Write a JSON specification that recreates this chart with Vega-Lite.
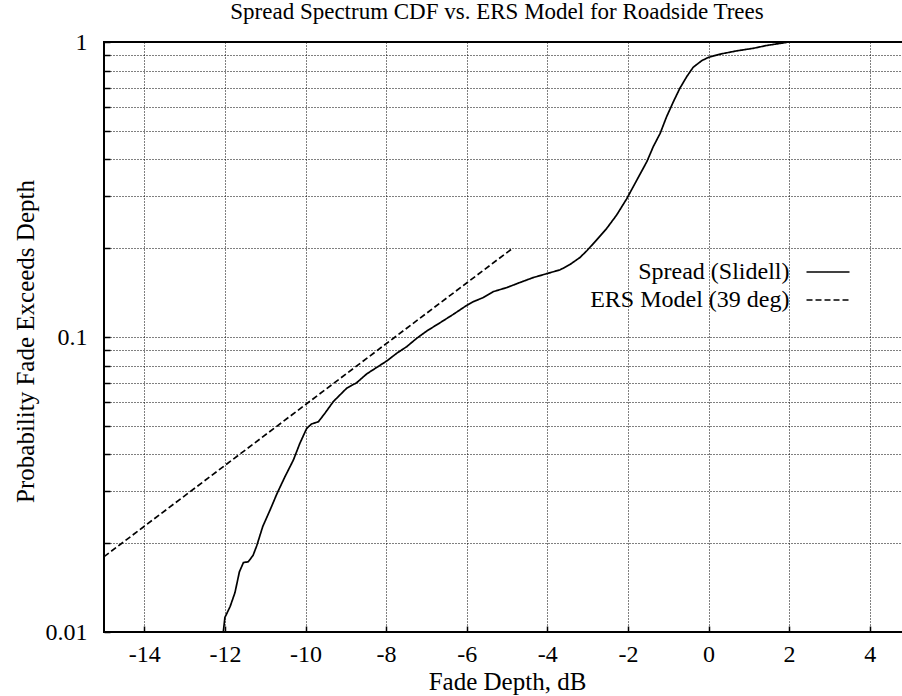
{
  "$schema": "https://vega.github.io/schema/vega-lite/v6.json",
  "width": 806,
  "height": 590,
  "autosize": {"type": "none"},
  "padding": {"left": 104, "top": 42, "right": 0, "bottom": 64},
  "background": "white",
  "title": {
    "text": "Spread Spectrum CDF vs. ERS Model for Roadside Trees",
    "font": "Liberation Serif",
    "fontSize": 23,
    "fontWeight": "normal",
    "color": "black",
    "offset": 6,
    "dx": -10
  },
  "config": {
    "view": {"stroke": "black", "strokeWidth": 2},
    "font": "Liberation Serif"
  },
  "data": {
    "values": [
      {"series": "Spread (Slidell)", "fade": -12.04, "prob": 0.0100},
      {"series": "Spread (Slidell)", "fade": -12.0, "prob": 0.0112},
      {"series": "Spread (Slidell)", "fade": -11.87, "prob": 0.0122},
      {"series": "Spread (Slidell)", "fade": -11.75, "prob": 0.0136},
      {"series": "Spread (Slidell)", "fade": -11.64, "prob": 0.0160},
      {"series": "Spread (Slidell)", "fade": -11.54, "prob": 0.0172},
      {"series": "Spread (Slidell)", "fade": -11.42, "prob": 0.0173},
      {"series": "Spread (Slidell)", "fade": -11.30, "prob": 0.0182},
      {"series": "Spread (Slidell)", "fade": -11.21, "prob": 0.0196},
      {"series": "Spread (Slidell)", "fade": -11.06, "prob": 0.0228},
      {"series": "Spread (Slidell)", "fade": -10.88, "prob": 0.0259},
      {"series": "Spread (Slidell)", "fade": -10.71, "prob": 0.0294},
      {"series": "Spread (Slidell)", "fade": -10.51, "prob": 0.0336},
      {"series": "Spread (Slidell)", "fade": -10.30, "prob": 0.0383},
      {"series": "Spread (Slidell)", "fade": -10.14, "prob": 0.0436},
      {"series": "Spread (Slidell)", "fade": -9.97, "prob": 0.0490},
      {"series": "Spread (Slidell)", "fade": -9.85, "prob": 0.0507},
      {"series": "Spread (Slidell)", "fade": -9.68, "prob": 0.0516},
      {"series": "Spread (Slidell)", "fade": -9.52, "prob": 0.0551},
      {"series": "Spread (Slidell)", "fade": -9.31, "prob": 0.0604},
      {"series": "Spread (Slidell)", "fade": -8.98, "prob": 0.0670},
      {"series": "Spread (Slidell)", "fade": -8.73, "prob": 0.0700},
      {"series": "Spread (Slidell)", "fade": -8.48, "prob": 0.0750},
      {"series": "Spread (Slidell)", "fade": -8.23, "prob": 0.0789},
      {"series": "Spread (Slidell)", "fade": -7.98, "prob": 0.0830},
      {"series": "Spread (Slidell)", "fade": -7.74, "prob": 0.0880},
      {"series": "Spread (Slidell)", "fade": -7.49, "prob": 0.0927},
      {"series": "Spread (Slidell)", "fade": -7.24, "prob": 0.0990},
      {"series": "Spread (Slidell)", "fade": -6.99, "prob": 0.1048},
      {"series": "Spread (Slidell)", "fade": -6.66, "prob": 0.1118},
      {"series": "Spread (Slidell)", "fade": -6.33, "prob": 0.1194},
      {"series": "Spread (Slidell)", "fade": -6.0, "prob": 0.1280},
      {"series": "Spread (Slidell)", "fade": -5.84, "prob": 0.1317},
      {"series": "Spread (Slidell)", "fade": -5.59, "prob": 0.1360},
      {"series": "Spread (Slidell)", "fade": -5.34, "prob": 0.1425},
      {"series": "Spread (Slidell)", "fade": -5.01, "prob": 0.1470},
      {"series": "Spread (Slidell)", "fade": -4.68, "prob": 0.1530},
      {"series": "Spread (Slidell)", "fade": -4.35, "prob": 0.1590},
      {"series": "Spread (Slidell)", "fade": -4.01, "prob": 0.1640},
      {"series": "Spread (Slidell)", "fade": -3.68, "prob": 0.1690},
      {"series": "Spread (Slidell)", "fade": -3.44, "prob": 0.1760},
      {"series": "Spread (Slidell)", "fade": -3.19, "prob": 0.1860},
      {"series": "Spread (Slidell)", "fade": -3.02, "prob": 0.1960},
      {"series": "Spread (Slidell)", "fade": -2.78, "prob": 0.2130},
      {"series": "Spread (Slidell)", "fade": -2.53, "prob": 0.2330},
      {"series": "Spread (Slidell)", "fade": -2.28, "prob": 0.2590},
      {"series": "Spread (Slidell)", "fade": -2.03, "prob": 0.2940},
      {"series": "Spread (Slidell)", "fade": -1.78, "prob": 0.3400},
      {"series": "Spread (Slidell)", "fade": -1.53, "prob": 0.3930},
      {"series": "Spread (Slidell)", "fade": -1.37, "prob": 0.4420},
      {"series": "Spread (Slidell)", "fade": -1.20, "prob": 0.4900},
      {"series": "Spread (Slidell)", "fade": -1.04, "prob": 0.5580},
      {"series": "Spread (Slidell)", "fade": -0.87, "prob": 0.6280},
      {"series": "Spread (Slidell)", "fade": -0.71, "prob": 0.6970},
      {"series": "Spread (Slidell)", "fade": -0.54, "prob": 0.7630},
      {"series": "Spread (Slidell)", "fade": -0.38, "prob": 0.8210},
      {"series": "Spread (Slidell)", "fade": -0.17, "prob": 0.8640},
      {"series": "Spread (Slidell)", "fade": 0.0, "prob": 0.8870},
      {"series": "Spread (Slidell)", "fade": 0.29, "prob": 0.9100},
      {"series": "Spread (Slidell)", "fade": 0.70, "prob": 0.9330},
      {"series": "Spread (Slidell)", "fade": 1.11, "prob": 0.9520},
      {"series": "Spread (Slidell)", "fade": 1.44, "prob": 0.9730},
      {"series": "Spread (Slidell)", "fade": 1.69, "prob": 0.9850},
      {"series": "Spread (Slidell)", "fade": 2.0, "prob": 1.0},
      {"series": "Spread (Slidell)", "fade": 2.5, "prob": 1.0},
      {"series": "ERS Model (39 deg)", "fade": -15.0, "prob": 0.0180},
      {"series": "ERS Model (39 deg)", "fade": -4.9, "prob": 0.1980}
    ]
  },
  "mark": {"type": "line", "strokeWidth": 1.7, "clip": true},
  "encoding": {
    "x": {
      "field": "fade",
      "type": "quantitative",
      "scale": {"domain": [-15, 5], "nice": false, "zero": false},
      "axis": {
        "values": [-14, -12, -10, -8, -6, -4, -2, 0, 2, 4],
        "labelExpr": "datum.value < 0 ? '-' + abs(datum.value) : '' + datum.value",
        "title": "Fade Depth, dB",
        "titleFont": "Liberation Serif",
        "titleFontSize": 25,
        "titleFontWeight": "normal",
        "titleColor": "black",
        "titleY": 37,
        "titleBaseline": "top",
        "labelFont": "Liberation Serif",
        "labelFontSize": 24,
        "labelColor": "black",
        "labelPadding": 16,
        "labelFlush": false,
        "domain": false,
        "ticks": true,
        "tickSize": -6,
        "tickColor": "black",
        "tickWidth": 1.5,
        "grid": true,
        "gridColor": "black",
        "gridDash": [1, 2],
        "gridWidth": 1,
        "gridOpacity": 1
      }
    },
    "y": {
      "field": "prob",
      "type": "quantitative",
      "scale": {"type": "log", "domain": [0.01, 1], "nice": false},
      "axis": {
        "values": [0.01, 0.02, 0.03, 0.04, 0.05, 0.06, 0.07, 0.08, 0.09, 0.1, 0.2, 0.3, 0.4, 0.5, 0.6, 0.7, 0.8, 0.9, 1],
        "labelExpr": "datum.value === 0.01 ? '0.01' : datum.value === 0.1 ? '0.1' : datum.value === 1 ? '1' : ''",
        "title": "Probability Fade Exceeds Depth",
        "titleFont": "Liberation Serif",
        "titleFontSize": 25,
        "titleFontWeight": "normal",
        "titleColor": "black",
        "titleX": -66,
        "titleY": 299,
        "titleAngle": -90,
        "titleBaseline": "bottom",
        "titleAlign": "center",
        "labelFont": "Liberation Serif",
        "labelFontSize": 24,
        "labelColor": "black",
        "labelPadding": 23,
        "labelFlush": false,
        "labelOverlap": false,
        "domain": false,
        "ticks": true,
        "tickSize": -6,
        "tickColor": "black",
        "tickWidth": 1.5,
        "grid": true,
        "gridColor": "black",
        "gridDash": [1, 2],
        "gridWidth": 1,
        "gridOpacity": 1
      }
    },
    "color": {
      "field": "series",
      "type": "nominal",
      "scale": {"domain": ["Spread (Slidell)", "ERS Model (39 deg)"], "range": ["black", "black"]},
      "legend": {
        "orient": "none",
        "legendX": 712,
        "legendY": 218,
        "title": null,
        "symbolType": "M-2,0H2",
        "symbolSize": 462,
        "symbolStrokeWidth": 1.5,
        "labelAlign": "right",
        "labelOffset": -50.5,
        "labelLimit": 0,
        "labelFont": "Liberation Serif",
        "labelFontSize": 24,
        "labelColor": "black",
        "rowPadding": 4
      }
    },
    "strokeDash": {
      "field": "series",
      "type": "nominal",
      "scale": {"domain": ["Spread (Slidell)", "ERS Model (39 deg)"], "range": [[1, 0], [6, 3]]},
      "legend": {
        "orient": "none",
        "legendX": 712,
        "legendY": 218,
        "title": null,
        "symbolType": "M-2,0H2",
        "symbolSize": 462,
        "symbolStrokeWidth": 1.5,
        "labelAlign": "right",
        "labelOffset": -50.5,
        "labelLimit": 0,
        "labelFont": "Liberation Serif",
        "labelFontSize": 24,
        "labelColor": "black",
        "rowPadding": 4
      }
    }
  }
}
